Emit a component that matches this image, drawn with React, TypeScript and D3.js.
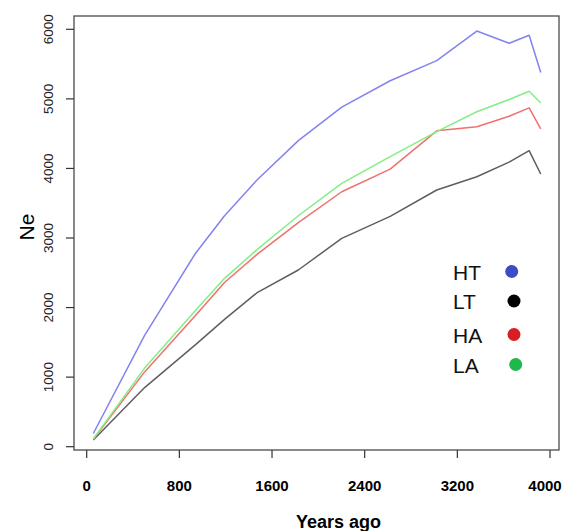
import React from "react";
import * as d3 from "d3";

const years = [57, 500, 935, 1190, 1468, 1827, 2202, 2620, 3022, 3368, 3647, 3820, 3920];
const HT = [190, 1600, 2770, 3320, 3830, 4400, 4880, 5260, 5550, 5975, 5800, 5915, 5380];
const LT = [95, 850, 1460, 1830, 2210, 2540, 2995, 3310, 3690, 3880, 4090, 4255, 3920];
const HA = [105, 1075, 1880, 2360, 2760, 3220, 3665, 3990, 4540, 4600, 4750, 4870, 4570];
const LA = [110, 1130, 1950, 2420, 2830, 3320, 3786, 4170, 4530, 4815, 4990, 5110, 4940];

const xTicks = [0, 800, 1600, 2400, 3200, 4000];
const yTicks = [0, 1000, 2000, 3000, 4000, 5000, 6000];

const seriesNames = ["HT", "LT", "HA", "LA"];
const seriesValues = [HT, LT, HA, LA];
const lineColors = ["#8383f0", "#5e5e5e", "#ef7070", "#84ee84"];
const dotColors = ["#3c4cc4", "#000000", "#d61e24", "#1fb84c"];

export default function App() {
  const W = 564;
  const H = 531;
  const box = { left: 74, right: 559, top: 16, bottom: 450 };
  const x = d3.scaleLinear().domain([0, 4000]).range([86.7, 550]);
  const y = d3.scaleLinear().domain([0, 6000]).range([446.7, 29.3]);
  const line = d3
    .line<number>()
    .x((_, i) => x(years[i]))
    .y((d) => y(d));

  const font = "'Liberation Sans', Arial, sans-serif";

  return (
    <svg
      width={W}
      height={H}
      viewBox={`0 0 ${W} ${H}`}
      style={{ position: "absolute", left: 0, top: 0, background: "#fff" }}
      fontFamily={font}
    >
      <rect x={0} y={0} width={W} height={H} fill="#fff" />
      {/* plot box */}
      <rect
        x={box.left}
        y={box.top}
        width={box.right - box.left}
        height={box.bottom - box.top}
        fill="none"
        stroke="#4a4a4a"
        strokeWidth={1.3}
      />
      {/* y axis ticks */}
      {yTicks.map((t) => (
        <g key={"y" + t}>
          <line x1={box.left - 8} x2={box.left} y1={y(t)} y2={y(t)} stroke="#333" strokeWidth={1.2} />
          <text
            transform={`translate(53,${y(t)}) rotate(-90)`}
            textAnchor="middle"
            fontSize={13.5}
            fill="#222"
          >
            {t}
          </text>
        </g>
      ))}
      {/* x axis ticks */}
      {xTicks.map((t) => (
        <g key={"x" + t}>
          <line x1={x(t)} x2={x(t)} y1={box.bottom} y2={box.bottom + 8} stroke="#333" strokeWidth={1.2} />
          <text
            x={Math.min(x(t), 545)}
            y={490.5}
            textAnchor="middle"
            fontSize={15}
            fontWeight="bold"
            fill="#000"
          >
            {t}
          </text>
        </g>
      ))}
      {/* axis titles */}
      <text x={338.5} y={528} textAnchor="middle" fontSize={18} fontWeight="bold" fill="#000">
        Years ago
      </text>
      <text transform="translate(33.5,227) rotate(-90)" textAnchor="middle" fontSize={21} fill="#000">
        Ne
      </text>
      {/* lines */}
      {seriesValues.map((vals, i) => (
        <path
          key={seriesNames[i]}
          d={line(vals) || ""}
          fill="none"
          stroke={lineColors[i]}
          strokeWidth={1.5}
          strokeLinejoin="round"
        />
      ))}
      {/* legend */}
      {seriesNames.map((name, i) => {
        const ys = [272, 301.5, 335, 365];
        const dx = [511.7, 514, 514, 515.7];
        return (
          <g key={"lg" + name}>
            <text x={453} y={ys[i] + 7.5} fontSize={21} fill="#111">
              {name}
            </text>
            <circle cx={dx[i]} cy={ys[i] - 0.5} r={6.5} fill={dotColors[i]} />
          </g>
        );
      })}
    </svg>
  );
}
